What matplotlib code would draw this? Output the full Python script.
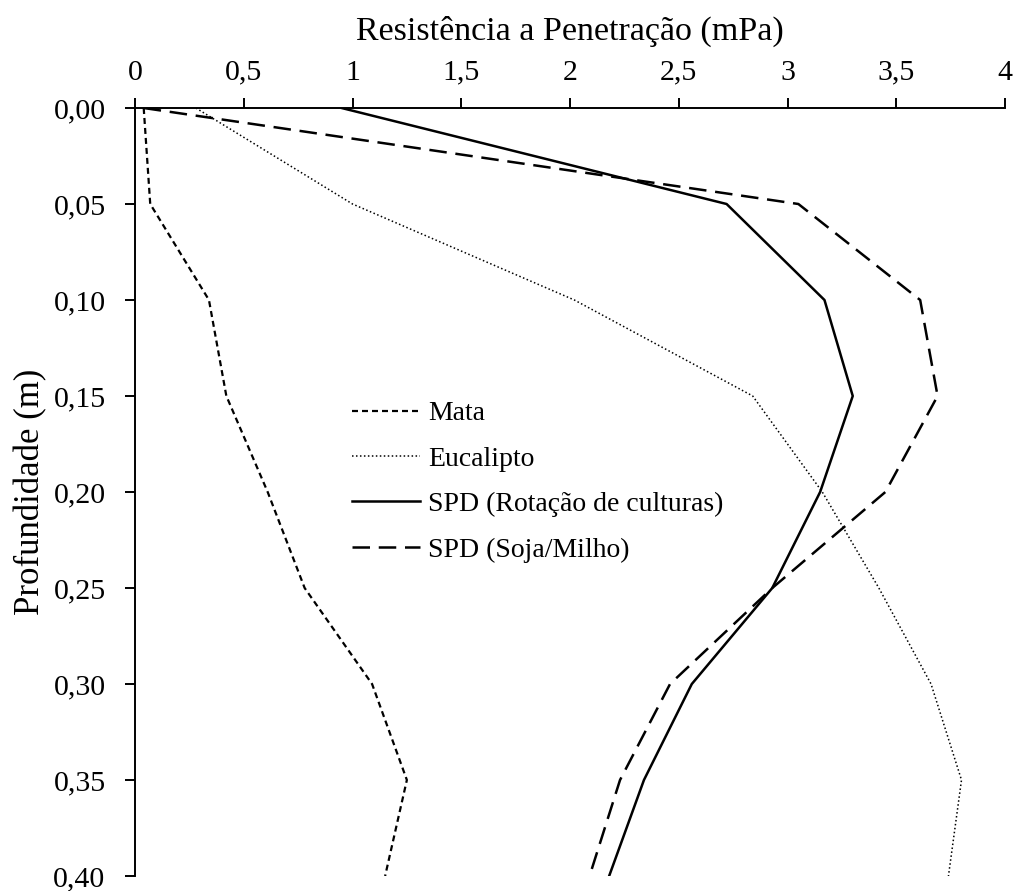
import matplotlib
matplotlib.use("Agg")
import matplotlib.pyplot as plt
from matplotlib.ticker import FuncFormatter, MultipleLocator

depth = [0.00, 0.05, 0.10, 0.15, 0.20, 0.25, 0.30, 0.35, 0.40]
mata = [0.04, 0.07, 0.34, 0.42, 0.61, 0.78, 1.09, 1.25, 1.15]
eucalipto = [0.28, 1.00, 2.02, 2.84, 3.16, 3.42, 3.66, 3.80, 3.74]
spd_rotacao = [0.95, 2.72, 3.17, 3.30, 3.15, 2.93, 2.56, 2.34, 2.18]
spd_soja = [0.04, 3.05, 3.61, 3.69, 3.45, 2.93, 2.46, 2.23, 2.09]

labels = ["Mata", "Eucalipto", "SPD (Rotação de culturas)", "SPD (Soja/Milho)"]

plt.rcParams['font.family'] = ['Liberation Serif', 'DejaVu Serif']

fig = plt.figure(figsize=(10.22, 8.91), dpi=100)
ax = fig.add_axes([135/1022, (891-876)/891, (1005-135)/1022, (876-108)/891])

ax.plot(mata, depth, color='black', lw=1.6, linestyle=(0, (2.7, 1.8)), label=labels[0])
ax.plot(eucalipto, depth, color='black', lw=1.1, linestyle=(0, (1, 1.6)), label=labels[1])
ax.plot(spd_rotacao, depth, color='black', lw=1.8, linestyle='-', label=labels[2])
ax.plot(spd_soja, depth, color='black', lw=1.8, linestyle=(0, (7, 3.5)), label=labels[3])

ax.set_xlim(0, 4)
ax.set_ylim(0.40, 0.00)
ax.xaxis.set_major_locator(MultipleLocator(0.5))
ax.yaxis.set_major_locator(MultipleLocator(0.05))

def fx(v, p):
    return ('%g' % v).replace('.', ',')

ax.xaxis.set_major_formatter(FuncFormatter(fx))
ax.yaxis.set_major_formatter(FuncFormatter(lambda v, p: ('%.2f' % v).replace('.', ',')))

ax.xaxis.tick_top()
ax.xaxis.set_label_position('top')
for s in ['bottom', 'right']:
    ax.spines[s].set_visible(False)
ax.spines['top'].set_linewidth(1.4)
ax.spines['left'].set_linewidth(1.4)
ax.tick_params(axis='both', direction='out', length=7.2, width=1.4, labelsize=21.5)
ax.tick_params(axis='x', pad=9)
ax.tick_params(axis='y', pad=14)

ax.set_xlabel("Resistência a Penetração (mPa)", fontsize=24.5, labelpad=14)
ax.set_ylabel("Profundidade (m)", fontsize=25, labelpad=4)

leg = ax.legend(loc='upper left', bbox_to_anchor=(0.243, 0.626), frameon=False,
                fontsize=20, handlelength=2.45, handletextpad=0.29, labelspacing=0.72,
                borderpad=0.2, borderaxespad=0)

fig.savefig("out.png", dpi=100)
